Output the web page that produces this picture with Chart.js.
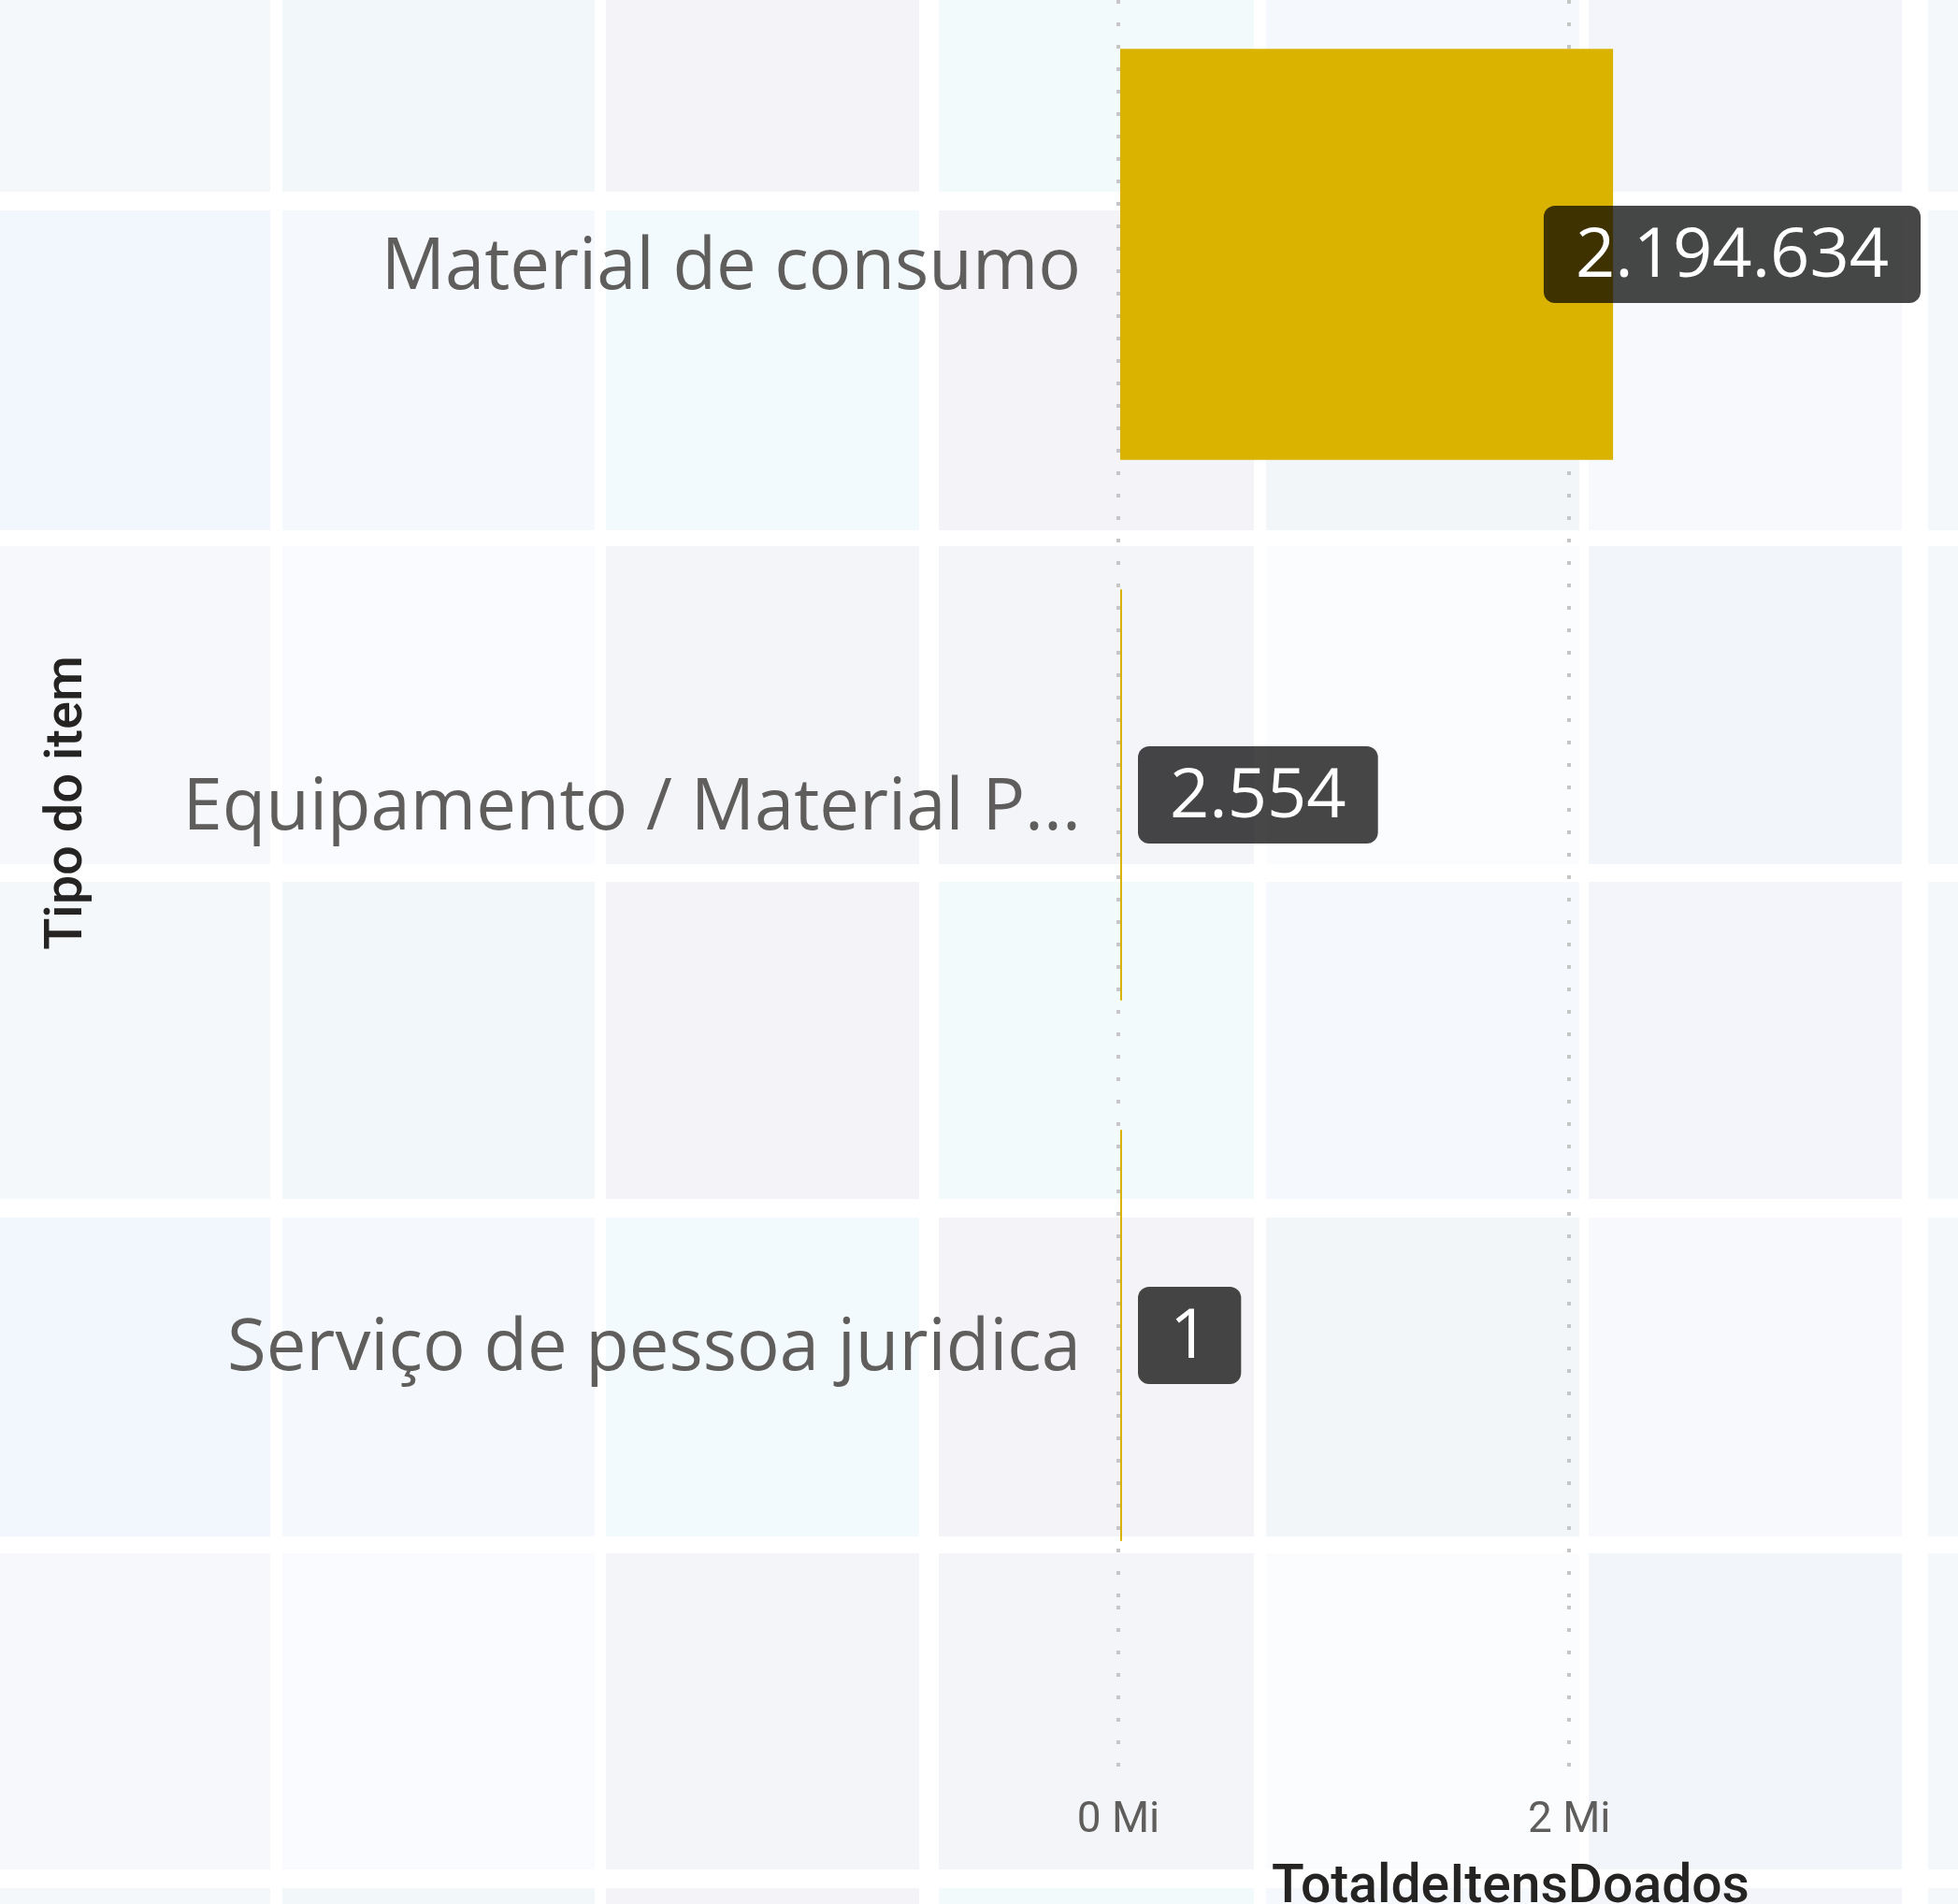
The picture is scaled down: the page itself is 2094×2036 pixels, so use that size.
<!DOCTYPE html>
<html>
<head>
<meta charset="utf-8">
<script src="https://cdn.jsdelivr.net/npm/chart.js@4/dist/chart.umd.min.js"></script>
<style>
  html, body { margin: 0; padding: 0; background: #fff; }
  canvas { display: block; }
</style>
</head>
<body>
<canvas id="chart" width="2094" height="2036"></canvas>
<script>
// dados
const tipos = ["Material de consumo", "Equipamento / Material Permanente", "Serviço de pessoa juridica"];
const totalItens = [2194634, 2554, 1];
const ticksX = [0, 2000000];
const eixoMax = 3480000;

// fundo em mosaico (decorativo)
const colunas = [[0, 289], [302, 636], [648, 983], [1004, 1341], [1354, 1689], [1699, 2034], [2062, 2094]];
const linhas = [[0, 205], [225, 567], [584, 924], [943, 1282], [1302, 1643], [1661, 1999], [2019, 2036]];
const coresMosaico = [
  ["#F4F8FA", "#F2F7FA", "#F3F3F8", "#F2FAFC", "#F5F8FC", "#F3F5FB", "#F5F8FA"],
  ["#F2F6FD", "#F5F9FE", "#F2FAFD", "#F3F3F8", "#F3F6F9", "#F7F9FC", "#F5F8FA"],
  ["#F6F8FC", "#FAFBFE", "#F3F5F9", "#F3F5F9", "#FBFCFE", "#F2F5FA", "#F5F8FA"]
];

const fundo = {
  id: "fundo",
  beforeDraw(chart) {
    const ctx = chart.ctx;
    ctx.save();
    ctx.fillStyle = "#fff";
    ctx.fillRect(0, 0, chart.width, chart.height);
    linhas.forEach((l, r) => {
      colunas.forEach((c, k) => {
        ctx.fillStyle = coresMosaico[r % 3][k];
        ctx.fillRect(c[0], l[0], c[1] - c[0], l[1] - l[0]);
      });
    });
    ctx.restore();
  }
};

// o eixo de categorias começa um pouco acima do topo do canvas (como no original)
const eixoAcima = {
  id: "eixoAcima",
  afterLayout(chart) {
    const y = chart.scales.y;
    const top = y.top;
    y.top = -17;
    y.configure();
    y.top = top; // título continua centrado na área visível
  }
};

function fmt(v) {
  return String(v).replace(/\B(?=(\d{3})+(?!\d))/g, ".");
}

// rótulos de dados com caixa escura
const rotulos = {
  id: "rotulos",
  afterDatasetsDraw(chart) {
    const ctx = chart.ctx;
    const meta = chart.getDatasetMeta(0);
    ctx.save();
    ctx.font = "400 74px 'Open Sans', sans-serif";
    ctx.textBaseline = "middle";
    meta.data.forEach((bar, i) => {
      const txt = fmt(totalItens[i]);
      const w = ctx.measureText(txt).width;
      const padX = 34, h = 104;
      const boxW = w + padX * 2;
      let x = bar.x + 17;
      if (x + boxW > chart.width - 40) x = chart.width - 40 - boxW;
      ctx.fillStyle = "rgba(0,0,0,0.72)";
      ctx.beginPath();
      ctx.roundRect(x, bar.y - h / 2, boxW, h, 12);
      ctx.fill();
      ctx.fillStyle = "#fff";
      ctx.fillText(txt, x + padX, bar.y + 3);
    });
    ctx.restore();
  }
};

new Chart(document.getElementById("chart"), {
  type: "bar",
  data: {
    labels: tipos,
    datasets: [{
      label: "TotaldeItensDoados",
      data: totalItens,
      backgroundColor: "#D9B300",
      categoryPercentage: 0.76,
      barPercentage: 1,
      minBarLength: 4
    }]
  },
  options: {
    indexAxis: "y",
    responsive: false,
    animation: false,
    devicePixelRatio: 1,
    layout: { padding: { top: 0, right: 59, bottom: -18, left: 35 } },
    plugins: { legend: { display: false }, tooltip: { enabled: false } },
    scales: {
      x: {
        min: 0,
        max: eixoMax,
        afterBuildTicks(scale) {
          scale.ticks = ticksX.map(v => ({ value: v }));
        },
        afterFit(scale) {
          scale.height = 337;
          scale.paddingLeft = 0;
          scale.paddingRight = 0;
        },
        ticks: {
          maxRotation: 0,
          autoSkip: false,
          padding: 24,
          color: "#605E5C",
          font: { family: "Roboto, sans-serif", size: 46 },
          callback: v => (v / 1000000) + " Mi"
        },
        grid: {
          color: "#C6C6C6",
          lineWidth: 4,
          tickLength: 179,
          tickColor: "#C6C6C6",
          tickWidth: 4,
          tickBorderDash: [4, 20]
        },
        border: { display: false, dash: [4, 20] },
        title: {
          display: true,
          text: "TotaldeItensDoados",
          color: "#252423",
          font: { family: "Roboto, sans-serif", size: 57, weight: "500" },
          padding: { top: 4, bottom: 0 }
        }
      },
      y: {
        ticks: {
          color: "#605E5C",
          font: { family: "'Open Sans', sans-serif", size: 76 },
          padding: 40,
          labelOffset: 15,
          callback(v) {
            const s = this.getLabelForValue(v);
            return s.length > 26 ? s.slice(0, 24) + "..." : s;
          }
        },
        grid: { display: false, drawTicks: false },
        border: { display: false },
        title: {
          display: true,
          text: "Tipo do item",
          color: "#252423",
          font: { family: "Roboto, sans-serif", size: 56, weight: "500" },
          padding: { top: 4, bottom: 4 }
        },
        afterFit(scale) {
          scale.width = 1161;
          scale.paddingTop = 0;
          scale.paddingBottom = 0;
        }
      }
    }
  },
  plugins: [fundo, eixoAcima, rotulos]
});
</script>
</body>
</html>
